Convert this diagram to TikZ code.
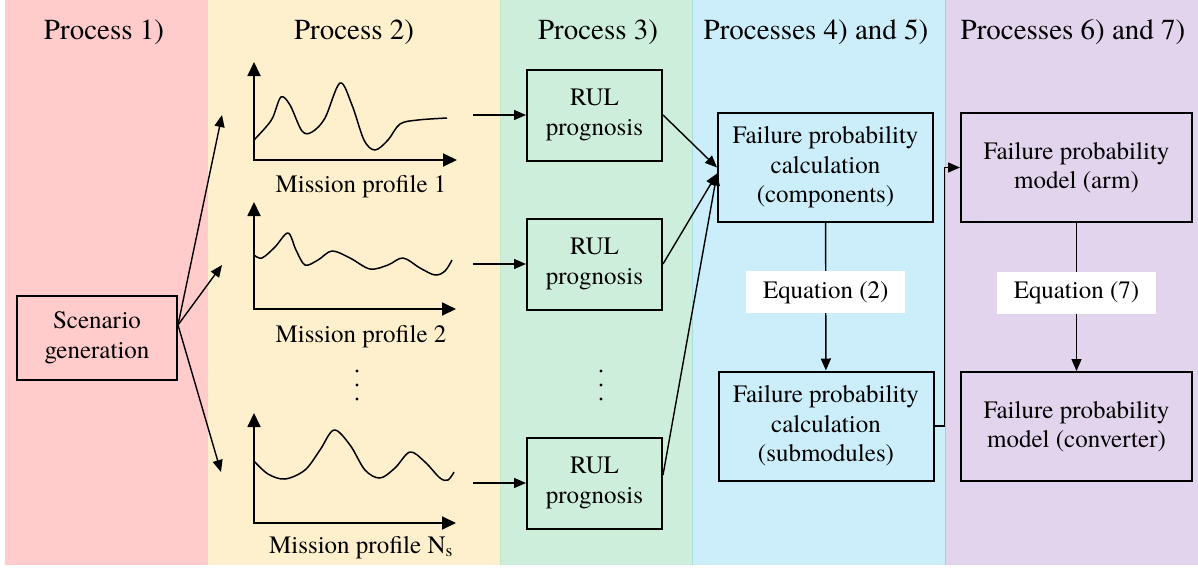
\documentclass[tikz,border=0pt]{standalone}
\usepackage{fontspec}
\setmainfont{TeX Gyre Termes}
\usetikzlibrary{arrows.meta,calc}
\definecolor{bandA}{HTML}{FFCBCB}
\definecolor{bandB}{HTML}{FFF0CD}
\definecolor{bandC}{HTML}{CDEEDA}
\definecolor{bandD}{HTML}{CBEEFA}
\definecolor{bandE}{HTML}{E2D4EC}
\definecolor{edgeC}{HTML}{C4E6C8}
\definecolor{edgeD}{HTML}{A9DCDD}
\definecolor{edgeE}{HTML}{AEC9E6}

\begin{document}
\begin{tikzpicture}[x=1pt,y=-1pt,
  every node/.style={font=\rmfamily\fontsize{25}{29.5}\selectfont, inner sep=0pt},
  head/.style={font=\rmfamily\fontsize{29}{34}\selectfont, anchor=base},
  caption/.style={anchor=base},
  box/.style={draw, line width=2pt, align=center},
  rulbox/.style={box, minimum width=135pt, minimum height=91pt},
  fpbox/.style={box, minimum width=215pt, minimum height=109pt},
  modbox/.style={box, minimum width=231pt, minimum height=109pt},
  eqlabel/.style={fill=white, minimum width=159pt, minimum height=42pt},
  conn/.style={line width=1.4pt, -{Triangle[length=12pt,width=10pt]}},
  axes/.style={line width=1.8pt, {Triangle[length=14pt,width=13pt]}-{Triangle[length=14pt,width=13pt]}},
  trace/.style={line width=1.5pt, line join=round},
]
\useasboundingbox (0,0) rectangle (1198,570);

% coloured process bands
\fill[bandA] (5,0) rectangle (208,565);
\fill[bandB] (208,0) rectangle (500,565);
\fill[bandC] (500,0) rectangle (692,565);
\fill[bandD] (692,0) rectangle (945,565);
\fill[bandE] (945,0) rectangle (1198,565);
\draw[edgeC, line width=0.8pt] (500,0) -- (500,565);
\draw[edgeD, line width=0.8pt] (692,0) -- (692,565);
\draw[edgeE, line width=0.8pt] (945,0) -- (945,565);

% band headings
\node[head] (h1) at (104,39) {Process 1)};
\node[head] (h2) at (354,39) {Process 2)};
\node[head] (h3) at (598,39) {Process 3)};
\node[head] (h4) at (816,39) {Processes 4) and 5)};
\node[head] (h5) at (1073,39) {Processes 6) and 7)};

% scenario generation
\node[box, minimum width=160pt, minimum height=84pt] (scen) at (97,338) {Scenario\\generation};
\coordinate (fan) at ([yshift=13pt]scen.east);
\coordinate (p1in) at (222,115);
\coordinate (p2in) at (222,265);
\coordinate (p3in) at (221,472);
\draw[conn] (fan) -- (p1in);
\draw[conn] (fan) -- (p2in);
\draw[conn] (fan) -- (p3in);

% mission profile 1
\draw[axes] (254,62) -- (254,160) -- (457,160);
\draw[trace] plot[smooth, tension=0.55] coordinates {(254,140) (266,127) (273,117) (281,97) (290,105) (302,131) (312,132) (325,118) (340,83) (352,105) (364,140) (375,150) (388,140) (400,124) (418,120) (447,118)};
\node[caption] (m1) at (361,192) {Mission profile 1};

% mission profile 2
\draw[axes] (254,202) -- (254,309) -- (456,309);
\draw[trace] plot[smooth, tension=0.55] coordinates {(254,255) (262,258) (275,247) (288,233) (296,250) (305,265) (318,260) (332,251) (350,258) (370,269) (388,265) (403,258) (420,268) (435,275) (445,271) (452,260)};
\node[caption] (m2) at (361,342) {Mission profile 2};

% mission profile N_s
\draw[axes] (254,413) -- (254,523) -- (456,523);
\draw[trace] plot[smooth, tension=0.55] coordinates {(254,461) (268,474) (285,479) (305,470) (320,450) (334,430) (350,445) (365,470) (380,478) (395,468) (410,452) (425,462) (440,478) (448,480) (454,472)};
\node[caption] (m3) at (361,553) {Mission profile N\textsubscript{s}};

% vertical ellipses
\foreach \yy in {371,385,399} {
  \fill (357,\yy) circle (1.6);
  \fill (601,\yy) circle (1.6);
}

% RUL prognosis
\node[rulbox] (rul1) at (594.5,115) {RUL\\prognosis};
\node[rulbox] (rul2) at (594.5,264) {RUL\\prognosis};
\node[rulbox] (rul3) at (594.5,483) {RUL\\prognosis};
\coordinate (c1out) at (473,115);
\coordinate (c2out) at (473,264);
\coordinate (c3out) at (473,483);
\draw[conn] (c1out) -- (rul1);
\draw[conn] (c2out) -- (rul2);
\draw[conn] (c3out) -- (rul3);

% failure probability calculation
\node[fpbox] (fpc) at (825.5,167.5) {Failure probability\\calculation\\(components)};
\node[fpbox] (sub) at (826,426) {Failure probability\\calculation\\(submodules)};
\draw[conn] (rul1.east) -- (fpc.west);
\draw[conn] (rul2.east) -- ([yshift=-6pt]fpc.west);
\draw[conn] ([yshift=8pt]rul3.east) -- ([yshift=-6pt]fpc.west);
\draw[conn] (fpc) -- (sub) node[eqlabel, pos=0.47] (eq2) {Equation (2)};

% failure probability models
\node[modbox] (arm) at (1076.5,167.5) {Failure probability\\model (arm)};
\node[modbox] (conv) at (1076.5,426.5) {Failure probability\\model (converter)};
\draw[conn] (sub.east) -- ++(10,0) |- (arm.west);
\draw[conn] (arm) -- (conv) node[eqlabel, pos=0.47] (eq7) {Equation (7)};
\end{tikzpicture}
\end{document}
